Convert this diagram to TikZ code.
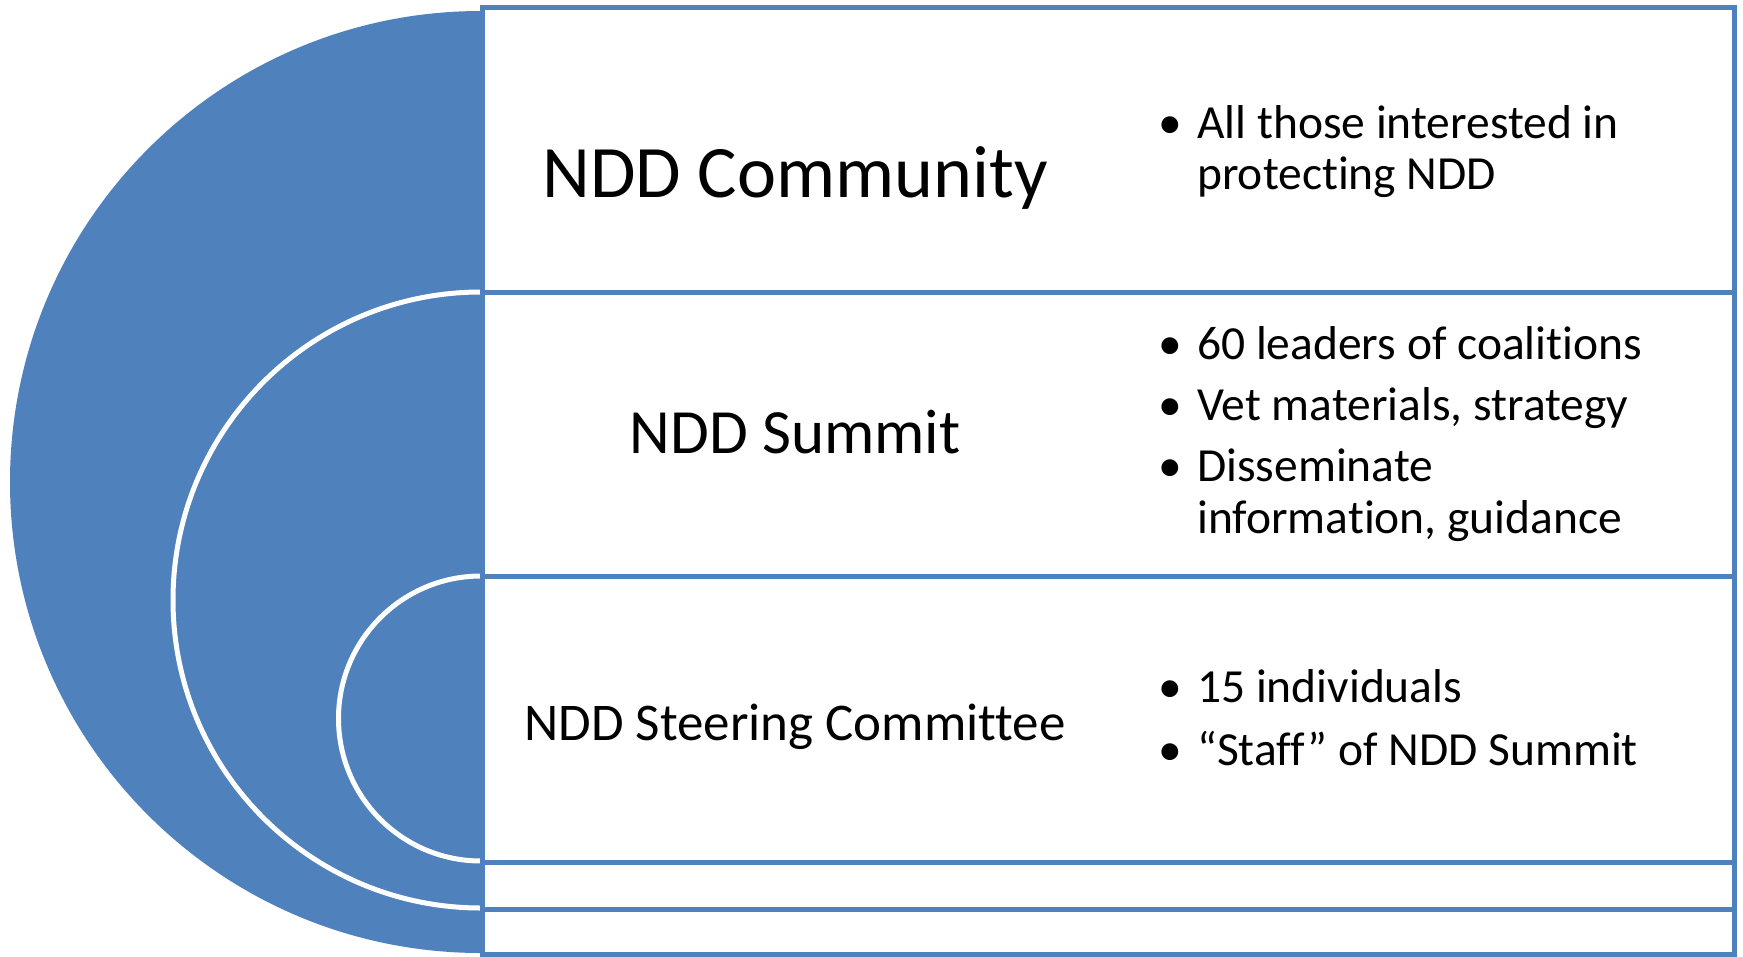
\documentclass[tikz,border=0pt]{standalone}
\usepackage{fontspec}
\setmainfont{Carlito}[Renderer=OpenType,Ligatures={NoCommon,NoRequired,NoContextual,NoRare},RawFeature={-liga;-clig;-calt;-rlig;-dlig}]
\usepackage{tikz}
\usetikzlibrary{positioning}
\definecolor{nddblue}{RGB}{79,129,189}
\newcommand{\blt}{\llap{\textbullet\hspace{15pt}}}

\begin{document}
\begin{tikzpicture}[x=1pt,y=-1pt,
  box/.style={draw=nddblue,line width=5pt},
  ring/.style={fill=nddblue,draw=white,line width=5pt},
  level/.style={anchor=base,inner sep=0pt},
  item/.style={anchor=base west,inner sep=0pt,font=\fontsize{47.5}{51}\selectfont}]
\useasboundingbox (0,0) rectangle (1743,956);
\fill[white] (0,0) rectangle (1743,956);
% half discs on the left
\begin{scope}
\clip (0,0) rectangle (481,956);
\fill[nddblue] (481,482) circle[radius=471];
\draw[ring] (481,600) circle[radius=308];
\draw[ring] (481,718.5) circle[radius=142.5];
\end{scope}
% boxes
\draw[box] (482,7) rectangle (1734,292);
\draw[box] (482,292) rectangle (1734,576);
\draw[box] (482,576) rectangle (1734,862);
\draw[box] (482,862) rectangle (1734,909);
\draw[box] (482,909) rectangle (1734,954);
% levels
\node[level,font=\fontsize{74}{80}\selectfont] (community) at (795,197) {NDD Community};
\node[level,font=\fontsize{63}{70}\selectfont] (summit) at (795,453) {NDD Summit};
\node[level,font=\fontsize{53}{60}\selectfont] (steering) at (795,740) {NDD Steering Committee};
% bullets
\node[item] (c1) at (1197,138) {\blt All those interested in};
\node[item] (c2) at (1197,189) {protecting NDD};
\node[item] (s1) at (1197,359) {\blt 60 leaders of coalitions};
\node[item] (s2) at (1197,420) {\blt Vet materials, strategy};
\node[item] (s3) at (1197,481) {\blt Disseminate};
\node[item] (s4) at (1197,533) {information, guidance};
\node[item] (t1) at (1197,702) {\blt 15 individuals};
\node[item] (t2) at (1197,765) {\blt “Staff” of NDD Summit};
\end{tikzpicture}
\end{document}
